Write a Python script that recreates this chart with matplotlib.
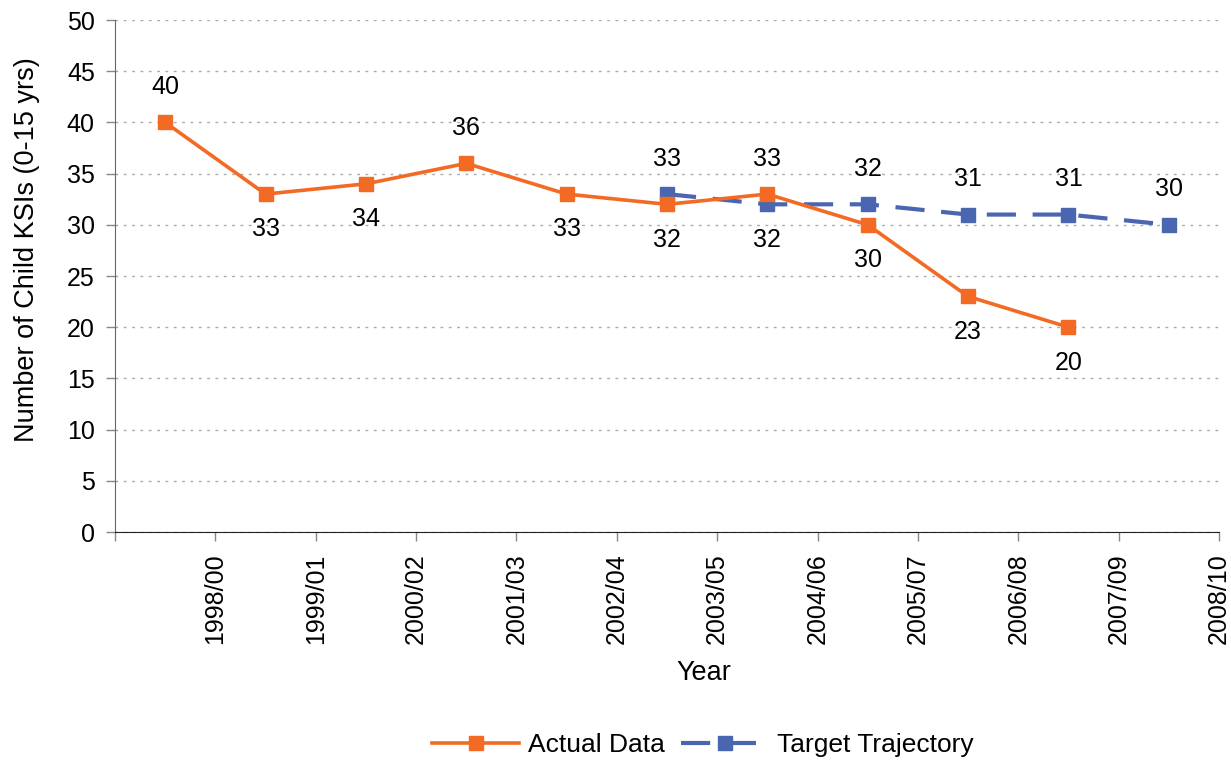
import matplotlib
matplotlib.use("Agg")
import matplotlib.pyplot as plt
from matplotlib.ticker import FixedLocator, NullFormatter

plt.rcParams['font.family'] = ['Liberation Sans', 'DejaVu Sans']

categories = ["1998/00", "1999/01", "2000/02", "2001/03", "2002/04", "2003/05",
              "2004/06", "2005/07", "2006/08", "2007/09", "2008/10"]
actual = [40, 33, 34, 36, 33, 32, 33, 30, 23, 20]
target = [33, 32, 32, 31, 31, 30]
target_start = 5
actual_label_pos = ["above", "below", "below", "above", "below", "below", "above", "below", "below", "below"]
target_label_pos = ["above", "below", "above", "above", "above", "above"]

orange = "#F26A23"
blue = "#4A66B0"

fig = plt.figure(figsize=(12.31, 7.60), dpi=100)
ax = fig.add_axes([115/1231, 1-532/760, (1219-115)/1231, (532-20)/760])

xa = [i + 0.5 for i in range(len(actual))]
xt = [target_start + i + 0.5 for i in range(len(target))]

ax.plot(xt, target, color=blue, lw=3, ls=(0, (7, 4)), marker='s', ms=10,
        label="Target Trajectory", zorder=3)
ax.plot(xa, actual, color=orange, lw=2.6, marker='s', ms=10,
        label="Actual Data", zorder=4)

off = 3.45
fs = 18
for x, y, p in zip(xa, actual, actual_label_pos):
    ax.text(x, y + (off if p == "above" else -off), str(y), ha='center', va='center', fontsize=fs)
for x, y, p in zip(xt, target, target_label_pos):
    ax.text(x, y + (off if p == "above" else -off), str(y), ha='center', va='center', fontsize=fs)

ax.set_xlim(0, len(categories))
ax.set_ylim(0, 50)
ax.set_yticks(range(0, 51, 5))
ax.set_xticks(range(1, len(categories) + 1))
ax.set_xticklabels(categories, rotation=90, fontsize=fs)
ax.xaxis.set_minor_locator(FixedLocator([0]))
ax.xaxis.set_minor_formatter(NullFormatter())
ax.tick_params(axis='x', which='both', direction='out', length=6.5, width=1, color='#888888', pad=9)
ax.tick_params(axis='y', direction='out', length=6.5, width=1, color='#888888', labelsize=fs, pad=8)

ax.yaxis.grid(True, ls=(0, (2, 4)), color='#aaaaaa', lw=1)
ax.set_axisbelow(True)
for s in ['top', 'right']:
    ax.spines[s].set_visible(False)
ax.spines['left'].set_color('#666666')
ax.spines['bottom'].set_color('#222222')

fig.text(27/1231, 1-250/760, "Number of Child KSIs (0-15 yrs)", rotation=90,
         ha='center', va='center', fontsize=19.5)
fig.text(704/1231, 1-673/760, "Year", ha='center', va='center', fontsize=19.5)

h, l = ax.get_legend_handles_labels()
fig.legend([h[1], h[0]], [l[1], l[0]], loc='center', bbox_to_anchor=(703/1231, 1-745/760),
           ncol=2, frameon=False, fontsize=19, handlelength=3.3, columnspacing=0.6,
           handletextpad=0.35)

fig.savefig("out.png", dpi=100)
